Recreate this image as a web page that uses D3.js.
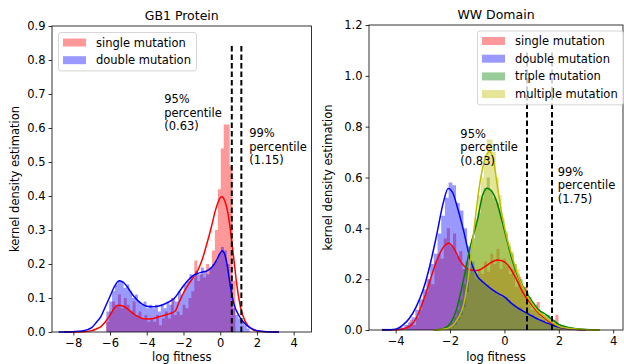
<!DOCTYPE html>
<html>
<head>
<meta charset="utf-8">
<script src="https://cdn.jsdelivr.net/npm/d3@7"></script>
<style>
  body { margin: 0; background: #fff; }
  text { font-family: "DejaVu Sans", sans-serif; fill: #000; }
</style>
</head>
<body>
<svg id="chart" width="624" height="364"></svg>
<script>
// ---- GB1 protein ----
const gb1Ticks = [-8, -6, -4, -2, 0, 2, 4];
const gb1YTicks = [0, 0.1, 0.2, 0.3, 0.4, 0.5, 0.6, 0.7, 0.8, 0.9];
const gb1Percentiles = [0.63, 1.15];

const gb1SingleHistStart = -6.21, gb1SingleHistWidth = 0.16;
const gb1SingleHist = [0.03, 0.06, 0.09, 0.08, 0.11, 0.07, 0.10, 0.08, 0.06, 0.09,
  0.05, 0.06, 0.04, 0.05, 0.03, 0.04, 0.03, 0.05, 0.02, 0.04,
  0.06, 0.04, 0.10, 0.05, 0.06, 0.05, 0.08, 0.07, 0.10, 0.12,
  0.21, 0.15, 0.17, 0.16, 0.20, 0.19, 0.24, 0.30, 0.42, 0.54,
  0.61, 0.61, 0.49, 0.15];
const gb1SingleKde = [[-8.5, 0], [-7.5, 0.001], [-7, 0.004], [-6.75, 0.009], [-6.5, 0.016], [-6.25, 0.03],
  [-6, 0.05], [-5.75, 0.071], [-5.55, 0.079], [-5.25, 0.075], [-5, 0.066], [-4.75, 0.055],
  [-4.5, 0.046], [-4.25, 0.04], [-4, 0.038], [-3.75, 0.039], [-3.5, 0.042], [-3.25, 0.046],
  [-3, 0.05], [-2.75, 0.054], [-2.45, 0.062], [-2.25, 0.086], [-2, 0.115], [-1.75, 0.138],
  [-1.5, 0.158], [-1.25, 0.178], [-1, 0.21], [-0.75, 0.255], [-0.5, 0.305], [-0.25, 0.36],
  [0, 0.395], [0.1, 0.398], [0.25, 0.385], [0.45, 0.34], [0.6, 0.28], [0.75, 0.21], [0.9, 0.14],
  [1.1, 0.074], [1.35, 0.032], [1.75, 0.008], [2, 0.003], [2.5, 0.0005], [3.2, 0]];

const gb1DoubleHistStart = -6.2, gb1DoubleHistWidth = 0.156;
const gb1DoubleHist = [0.06, 0.09, 0.12, 0.14, 0.15, 0.15, 0.13, 0.14, 0.12, 0.10,
  0.11, 0.09, 0.08, 0.09, 0.07, 0.08, 0.07, 0.08, 0.06, 0.08,
  0.07, 0.09, 0.08, 0.10, 0.09, 0.12, 0.11, 0.14, 0.15, 0.17,
  0.16, 0.18, 0.17, 0.19, 0.18, 0.17, 0.19, 0.20, 0.21, 0.23,
  0.25, 0.24, 0.20, 0.15, 0.07, 0.05, 0.04, 0.03, 0.02, 0.01];
const gb1DoubleKde = [[-8.8, 0], [-8, 0.001], [-7.5, 0.003], [-7, 0.013], [-6.75, 0.028], [-6.5, 0.045],
  [-6.25, 0.075], [-6, 0.105], [-5.75, 0.135], [-5.5, 0.151], [-5.25, 0.145], [-5, 0.128],
  [-4.75, 0.108], [-4.5, 0.093], [-4.25, 0.082], [-4, 0.076], [-3.75, 0.0745], [-3.5, 0.075],
  [-3.25, 0.078], [-3, 0.083], [-2.75, 0.09], [-2.5, 0.099], [-2.25, 0.117], [-2, 0.136],
  [-1.75, 0.152], [-1.5, 0.165], [-1.25, 0.172], [-1, 0.176], [-0.75, 0.179], [-0.5, 0.188],
  [-0.25, 0.206], [0, 0.232], [0.1, 0.239], [0.25, 0.228], [0.4, 0.19], [0.55, 0.135],
  [0.75, 0.082], [1, 0.05], [1.25, 0.03], [1.5, 0.017], [1.75, 0.009], [2, 0.004], [2.5, 0.001], [3.2, 0]];

// ---- WW domain ----
const wwTicks = [-4, -2, 0, 2, 4];
const wwYTicks = [0, 0.2, 0.4, 0.6, 0.8, 1.0, 1.2];
const wwPercentiles = [0.83, 1.75];

const wwSingleHistStart = -3.6, wwSingleHistWidth = 0.114;
const wwSingleHist = [0.02, 0.04, 0.02, 0.05, 0.08, 0.12, 0.15, 0.20, 0.18, 0.27,
  0.30, 0.28, 0.36, 0.40, 0.33, 0.38, 0.29, 0.31, 0.24, 0.27,
  0.22, 0.25, 0.20, 0.24, 0.22, 0.27, 0.23, 0.30, 0.26, 0.32,
  0.24, 0.28, 0.25, 0.22, 0.24, 0.17, 0.21, 0.16, 0.17, 0.10,
  0.08, 0.09, 0.11, 0.05, 0.04, 0.03, 0.02, 0.01, 0.06, 0.01];
const wwSingleKde = [[-4.5, 0], [-4, 0.001], [-3.75, 0.004], [-3.5, 0.013], [-3.25, 0.045], [-3, 0.11],
  [-2.75, 0.19], [-2.5, 0.27], [-2.25, 0.325], [-2.05, 0.341], [-1.85, 0.32], [-1.65, 0.276],
  [-1.45, 0.248], [-1.25, 0.236], [-1, 0.234], [-0.75, 0.247], [-0.5, 0.265], [-0.25, 0.275],
  [0, 0.268], [0.2, 0.245], [0.4, 0.208], [0.7, 0.144], [1.05, 0.092], [1.3, 0.062],
  [1.5, 0.045], [1.7, 0.028], [2, 0.012], [2.4, 0.004], [3, 0]];

const wwDoubleHistStart = -4.5, wwDoubleHistWidth = 0.136;
const wwDoubleHist = [0.005, 0.005, 0, 0.005, 0.01, 0.01, 0.02, 0.03, 0.05, 0.08,
  0.12, 0.16, 0.20, 0.26, 0.30, 0.38, 0.45, 0.52, 0.58, 0.57,
  0.50, 0.47, 0.40, 0.33, 0.27, 0.22, 0.20, 0.19, 0.18, 0.16,
  0.15, 0.14, 0.13, 0.13, 0.11, 0.10, 0.09, 0.09, 0.07, 0.07,
  0.06, 0.05, 0.04, 0.04, 0.03, 0.02, 0.02, 0.01, 0.01, 0.005];
const wwDoubleKde = [[-4.5, 0], [-4, 0.003], [-3.75, 0.018], [-3.5, 0.045], [-3.25, 0.09], [-3, 0.155],
  [-2.75, 0.25], [-2.5, 0.37], [-2.25, 0.5], [-2.07, 0.557], [-1.9, 0.54], [-1.75, 0.49],
  [-1.5, 0.39], [-1.25, 0.275], [-1, 0.212], [-0.75, 0.185], [-0.5, 0.163], [-0.25, 0.145],
  [0, 0.13], [0.25, 0.106], [0.5, 0.086], [0.75, 0.07], [1, 0.056], [1.25, 0.042],
  [1.5, 0.03], [1.75, 0.02], [2, 0.012], [2.5, 0.004], [3, 0]];

const wwTripleHistStart = -2.3, wwTripleHistWidth = 0.11;
const wwTripleHist = [0, 0.01, 0.01, 0.03, 0.05, 0.08, 0.12, 0.18, 0.24, 0.30,
  0.36, 0.42, 0.46, 0.52, 0.56, 0.60, 0.55, 0.52, 0.50, 0.47,
  0.41, 0.38, 0.33, 0.30, 0.26, 0.22, 0.20, 0.17, 0.15, 0.13,
  0.11, 0.10, 0.08, 0.07, 0.06, 0.06, 0.05, 0.04, 0.03, 0.02,
  0.02, 0.01, 0.01, 0.01, 0.005, 0.005, 0.003, 0.003, 0.002, 0.002];
const wwTripleKde = [[-2.6, 0], [-2.25, 0.005], [-2, 0.025], [-1.75, 0.085], [-1.5, 0.2], [-1.25, 0.33],
  [-1, 0.43], [-0.8, 0.53], [-0.65, 0.558], [-0.5, 0.55], [-0.3, 0.51], [-0.1, 0.433],
  [0.1, 0.35], [0.3, 0.27], [0.5, 0.21], [0.75, 0.158], [1, 0.115], [1.25, 0.08],
  [1.5, 0.063], [1.75, 0.042], [2, 0.022], [2.4, 0.009], [2.9, 0.003], [3.5, 0]];

const wwMultipleHistStart = -2.3, wwMultipleHistWidth = 0.11;
const wwMultipleHist = [0, 0.005, 0.005, 0.01, 0.02, 0.04, 0.06, 0.09, 0.15, 0.22,
  0.33, 0.44, 0.53, 0.60, 0.68, 0.75, 0.75, 0.70, 0.60, 0.53,
  0.44, 0.39, 0.34, 0.31, 0.26, 0.24, 0.19, 0.16, 0.14, 0.12,
  0.10, 0.08, 0.07, 0.06, 0.05, 0.04, 0.03, 0.03, 0.02, 0.015,
  0.01, 0.008, 0.006, 0.005, 0.004, 0.003, 0.003, 0.002, 0.002, 0.001];
const wwMultipleKde = [[-2.6, 0], [-2.25, 0.003], [-2, 0.01], [-1.75, 0.04], [-1.5, 0.1], [-1.35, 0.19],
  [-1.2, 0.32], [-1.05, 0.46], [-0.9, 0.58], [-0.75, 0.66], [-0.55, 0.702], [-0.4, 0.665],
  [-0.25, 0.56], [-0.1, 0.46], [0.1, 0.36], [0.3, 0.283], [0.55, 0.2], [0.85, 0.132],
  [1.2, 0.078], [1.5, 0.05], [1.75, 0.03], [2, 0.015], [2.5, 0.005], [3, 0.001], [3.5, 0]];

const svg = d3.select('#chart');
const fontSize = 11.5;

function drawPanel(cfg) {
  const x = d3.scaleLinear().domain(cfg.xDomain).range([cfg.left, cfg.right]);
  const y = d3.scaleLinear().domain(cfg.yDomain).range([cfg.bottom, cfg.top]);
  const g = svg.append('g');

  // histogram patches sit below all lines (matplotlib zorder)
  cfg.series.forEach(s => {
    const pts = s.hist.map((h, i) => [s.start + i * s.width, h]);
    pts.push([s.start + s.hist.length * s.width, 0]);
    g.append('path')
      .attr('d', d3.area().curve(d3.curveStepAfter)
        .x(d => x(d[0])).y0(y(0)).y1(d => y(d[1]))(pts))
      .attr('fill', s.color)
      .attr('fill-opacity', 0.4)
      .attr('stroke', 'none');
  });

  cfg.series.forEach(s => {
    g.append('path')
      .attr('d', d3.line().curve(d3.curveMonotoneX)
        .x(d => x(d[0])).y(d => y(d[1]))(s.kde))
      .attr('fill', 'none')
      .attr('stroke', s.color)
      .attr('stroke-width', 1.5);
  });

  // percentile lines
  cfg.percentiles.forEach(p => {
    g.append('line')
      .attr('x1', x(p)).attr('x2', x(p))
      .attr('y1', y(0)).attr('y2', y(cfg.lineTop))
      .attr('stroke', '#000')
      .attr('stroke-width', 2)
      .attr('stroke-dasharray', '5.5,3');
  });

  // percentile notes
  cfg.notes.forEach(n => {
    const t = g.append('text')
      .attr('x', x(n.x)).attr('y', y(n.y))
      .style('font-size', fontSize + 'px');
    n.lines.forEach((l, i) => {
      t.append('tspan').attr('x', x(n.x)).attr('dy', i === 0 ? '0.95em' : '1.17em').text(l);
    });
  });

  // axes
  g.append('g')
    .attr('transform', `translate(0,${cfg.bottom})`)
    .call(d3.axisBottom(x).tickValues(cfg.xTicks).tickSize(3.5).tickPadding(3)
      .tickFormat(d => d3.format('d')(d).replace('-', '\u2212')))
    .call(a => a.select('.domain').remove())
    .call(a => a.selectAll('line').attr('stroke', '#000').attr('stroke-width', 0.8))
    .call(a => a.selectAll('text').style('font-size', fontSize + 'px').style('font-family', '"DejaVu Sans"'));

  g.append('g')
    .attr('transform', `translate(${cfg.left},0)`)
    .call(d3.axisLeft(y).tickValues(cfg.yTicks).tickSize(3.5).tickPadding(3)
      .tickFormat(d3.format('.1f')))
    .call(a => a.select('.domain').remove())
    .call(a => a.selectAll('line').attr('stroke', '#000').attr('stroke-width', 0.8))
    .call(a => a.selectAll('text').style('font-size', fontSize + 'px').style('font-family', '"DejaVu Sans"'));

  g.append('rect')
    .attr('x', cfg.left).attr('y', cfg.top)
    .attr('width', cfg.right - cfg.left).attr('height', cfg.bottom - cfg.top)
    .attr('fill', 'none').attr('stroke', '#000').attr('stroke-width', 0.8);

  // titles and labels
  const cx = (cfg.left + cfg.right) / 2;
  g.append('text').attr('x', cx).attr('y', cfg.top - 6)
    .attr('text-anchor', 'middle').style('font-size', '12.5px').text(cfg.title);
  g.append('text').attr('x', cx).attr('y', 361)
    .attr('text-anchor', 'middle').style('font-size', fontSize + 'px').text('log fitness');
  g.append('text')
    .attr('transform', `translate(${cfg.yLabelX},${(cfg.top + cfg.bottom) / 2}) rotate(-90)`)
    .attr('text-anchor', 'middle').style('font-size', fontSize + 'px')
    .text('kernel density estimation');

  // legend
  const lg = g.append('g').attr('transform', `translate(${cfg.legend.x},${cfg.legend.y})`);
  lg.append('rect')
    .attr('width', cfg.legend.w).attr('height', cfg.series.length * 17.7 + 3)
    .attr('rx', 2.5)
    .attr('fill', '#fff').attr('fill-opacity', 0.8)
    .attr('stroke', '#ccc').attr('stroke-width', 0.8);
  cfg.series.forEach((s, i) => {
    const cy = 10 + i * 17.7;
    lg.append('rect').attr('x', 4.5).attr('y', cy - 4).attr('width', 23).attr('height', 8)
      .attr('fill', s.color).attr('fill-opacity', 0.4);
    lg.append('text').attr('x', 37.5).attr('y', cy + 4)
      .style('font-size', fontSize + 'px').text(s.name);
  });
}

drawPanel({
  title: 'GB1 Protein',
  left: 52, right: 311.5, top: 26, bottom: 332,
  xDomain: [-9.16, 4.97], yDomain: [0, 0.9],
  xTicks: gb1Ticks, yTicks: gb1YTicks,
  yLabelX: 19,
  lineTop: 0.85,
  percentiles: gb1Percentiles,
  notes: [
    { x: -3.05, y: 0.705, lines: ['95%', 'percentile', '(0.63)'] },
    { x: 1.58, y: 0.605, lines: ['99%', 'percentile', '(1.15)'] }
  ],
  legend: { x: 58.5, y: 32.5, w: 138 },
  series: [
    { name: 'single mutation', color: '#ff0000', hist: gb1SingleHist, start: gb1SingleHistStart, width: gb1SingleHistWidth, kde: gb1SingleKde },
    { name: 'double mutation', color: '#0000ff', hist: gb1DoubleHist, start: gb1DoubleHistStart, width: gb1DoubleHistWidth, kde: gb1DoubleKde }
  ]
});

drawPanel({
  title: 'WW Domain',
  left: 369, right: 623, top: 25, bottom: 330,
  xDomain: [-4.98, 4.36], yDomain: [0, 1.2],
  xTicks: wwTicks, yTicks: wwYTicks,
  yLabelX: 332,
  lineTop: 1.1,
  percentiles: wwPercentiles,
  notes: [
    { x: -1.62, y: 0.80, lines: ['95%', 'percentile', '(0.83)'] },
    { x: 1.96, y: 0.65, lines: ['99%', 'percentile', '(1.75)'] }
  ],
  legend: { x: 477.5, y: 31, w: 146 },
  series: [
    { name: 'single mutation', color: '#ff0000', hist: wwSingleHist, start: wwSingleHistStart, width: wwSingleHistWidth, kde: wwSingleKde },
    { name: 'double mutation', color: '#0000ff', hist: wwDoubleHist, start: wwDoubleHistStart, width: wwDoubleHistWidth, kde: wwDoubleKde },
    { name: 'triple mutation', color: '#008000', hist: wwTripleHist, start: wwTripleHistStart, width: wwTripleHistWidth, kde: wwTripleKde },
    { name: 'multiple mutation', color: '#bfbf00', hist: wwMultipleHist, start: wwMultipleHistStart, width: wwMultipleHistWidth, kde: wwMultipleKde }
  ]
});
</script>
</body>
</html>
